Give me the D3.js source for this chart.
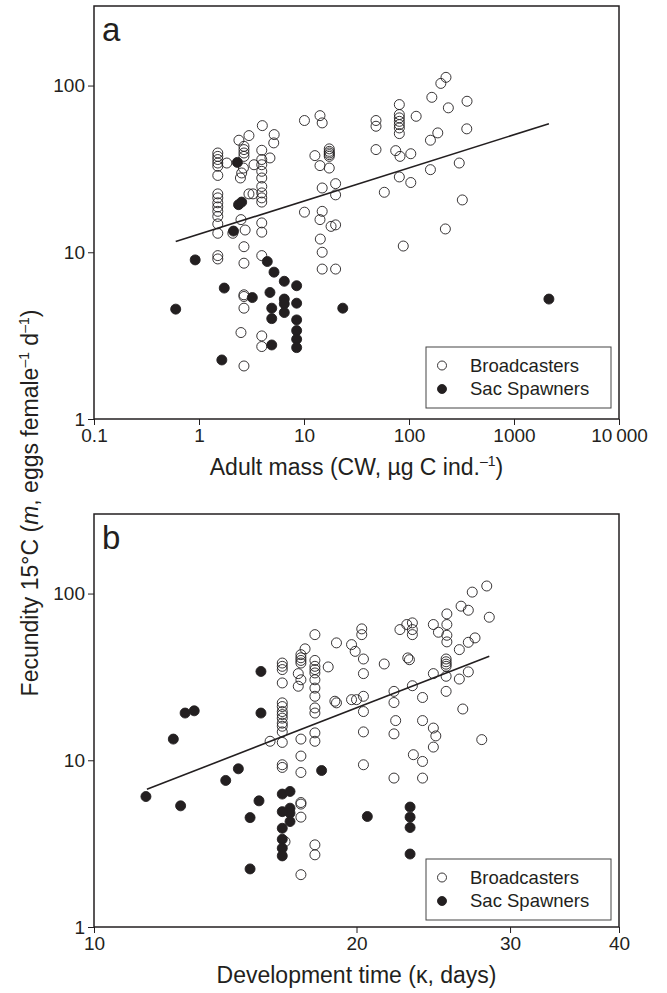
<!DOCTYPE html>
<html>
<head>
<meta charset="utf-8">
<script src="https://cdn.jsdelivr.net/npm/d3@7"></script>
<style>
    body { margin: 0; background: #fff; }
    text { font-family: "Liberation Sans", Arial, Helvetica, sans-serif; fill: #231f20; }
</style>
</head>
<body>
<svg id="chart" width="667" height="993"></svg>
<script>

// Panel a: adult mass (µg C) vs fecundity
const aBroadcasters = [
    [1.51, 39.4], [1.51, 37.6], [1.51, 36], [1.51, 34.3], [1.51, 32.8], [1.51, 28.9],
    [1.51, 22.4], [1.51, 21.2], [1.51, 19.8], [1.51, 18.7], [1.51, 17.6], [1.51, 16.4],
    [1.51, 14.8], [1.51, 13.0], [1.51, 9.55], [1.51, 9.12],
    [1.84, 34.3], [2.40, 47], [2.1, 13.0],
    [2.68, 43.2], [2.68, 41.3], [2.68, 39.4], [2.68, 37.6], [2.65, 32.0], [2.55, 29.9],
    [2.48, 27.9], [2.51, 15.7], [2.75, 13.6], [2.68, 10.8], [2.68, 8.6], [2.68, 5.56],
    [2.68, 5.43], [2.68, 4.62], [2.51, 3.30], [2.68, 2.08],
    [2.99, 50.1], [2.99, 22.4], [3.27, 22.4], [3.34, 33.5],
    [4.01, 57.5], [5.2, 50.8], [5.15, 45.3], [4.74, 36.8],
    [3.96, 40.9], [3.96, 36], [3.96, 33.5], [3.96, 30.6], [3.96, 27.9], [3.96, 24.8],
    [3.96, 22.7], [3.96, 21.2], [3.96, 20.0], [3.96, 15.0], [3.96, 13.2], [3.96, 9.55],
    [3.96, 3.15], [3.96, 2.72],
    [10.1, 61.7], [10.1, 17.4], [14.2, 66], [14.9, 59.7], [12.7, 38], [14.2, 33.1],
    [17.4, 41.7], [17.4, 40.3], [17.4, 39.4], [17.4, 38.5], [17.4, 37.6], [17.4, 32.0],
    [14.9, 24.3], [20, 25.8], [20, 22.1], [14.9, 17.6], [14.2, 15.7], [18.1, 14.3],
    [20, 14.6], [14.3, 12.0], [14.9, 10.0], [14.9, 7.93], [20, 7.93],
    [225, 112], [201, 103], [165, 85], [357, 80.5], [237, 73.5],
    [80.9, 76.9], [80.9, 67], [80.9, 64], [80.9, 61], [80.9, 58.3], [80.9, 55.7], [80.9, 51.5],
    [117, 65.4], [355, 55], [188, 52], [160, 47],
    [48.5, 61.7], [48.5, 57], [48.5, 41.3], [74.7, 40.7], [82.1, 37.6], [104, 39],
    [160, 31.3], [301, 34.3], [80.9, 28.3], [104, 26.2], [58.2, 22.9], [322, 20.6],
    [222, 13.8], [88.2, 10.9]
];
const aSacSpawners = [
    [2.32, 34.6], [2.38, 19.3], [2.55, 20.0], [2.13, 13.4], [0.92, 9.0], [4.47, 8.8],
    [5.18, 7.6], [6.49, 6.7], [8.51, 6.3], [1.74, 6.1], [0.60, 4.56], [3.22, 5.35],
    [4.74, 5.74], [6.49, 5.24], [6.49, 4.91], [6.49, 4.35], [8.51, 4.95], [4.93, 4.62],
    [4.93, 4.0], [8.51, 3.93], [8.51, 3.39], [8.51, 3.01], [8.51, 2.68], [4.93, 2.78],
    [1.65, 2.26], [23.4, 4.62], [2150, 5.24]
];
const aFitLine = [[0.6, 11.6], [2150, 59]];

// Panel b: development time (days) vs fecundity
const bBroadcasters = [
    [17.92, 56.7], [18.97, 50.6], [20.28, 61.4], [20.28, 56.7], [19.74, 49.4], [19.93, 45.0],
    [20.37, 40.5], [17.46, 46.6], [17.27, 43.0], [17.27, 41.2], [17.27, 39.7], [17.27, 38.3],
    [17.92, 39.7], [17.92, 36.6], [17.92, 35.0], [17.92, 33.4], [18.56, 36.3], [20.37, 33.1],
    [16.44, 38.3], [16.44, 36.6], [16.44, 35.0], [16.44, 29.1],
    [17.15, 33.1], [17.27, 30.4], [17.15, 27.8], [17.92, 30.4], [17.92, 27.1], [17.92, 24.2],
    [18.89, 22.6], [18.97, 22.1], [19.74, 23.1], [20.0, 23.1], [20.37, 24.2], [20.37, 19.6],
    [16.44, 22.1], [16.44, 21.0], [16.44, 19.6], [16.44, 18.8], [16.44, 17.9], [16.44, 16.7],
    [16.44, 16.0], [16.44, 14.8], [16.44, 12.8],
    [17.92, 20.6], [17.92, 19.2], [17.92, 14.6], [17.92, 13.0], [15.92, 13.0],
    [17.27, 13.4], [17.27, 10.6], [17.27, 8.45], [20.37, 14.8], [20.37, 9.40],
    [16.44, 9.40], [16.44, 9.06], [17.27, 5.58], [17.27, 5.46], [17.27, 4.56], [16.56, 3.25],
    [17.92, 3.11], [17.92, 2.71], [17.27, 2.06],
    [28.21, 111], [27.15, 102], [26.36, 84], [26.87, 79.4], [28.40, 72.1], [25.39, 75.5],
    [24.5, 65.2], [24.83, 58.6], [25.39, 65.2], [25.39, 56.2], [25.39, 51.3], [27.35, 54.2],
    [26.87, 51.0], [26.24, 46.1], [22.43, 60.8], [22.84, 65.2], [23.18, 66.7], [23.18, 60.8],
    [23.18, 56.7], [22.9, 41.1], [23.0, 40.1], [21.52, 37.8],
    [25.34, 40.5], [25.34, 39.0], [25.34, 37.7], [25.34, 36.6],
    [24.5, 33.1], [25.34, 31.9], [26.24, 30.7], [26.87, 33.9], [23.18, 28.0],
    [22.08, 25.9], [22.08, 22.2], [23.81, 23.8], [25.34, 25.9], [26.48, 20.3],
    [22.18, 17.3], [22.08, 14.4], [23.81, 17.3], [24.5, 15.6], [24.66, 14.0], [24.5, 12.0],
    [27.84, 13.3], [23.24, 10.8], [23.81, 9.84], [22.08, 7.82], [23.81, 7.82]
];
const bSacSpawners = [
    [12.72, 19.2], [13.03, 19.8], [15.54, 34.1], [15.54, 19.2], [12.33, 13.4], [14.64, 8.89],
    [14.16, 7.57], [11.47, 6.06], [12.57, 5.33], [15.46, 5.71], [15.10, 4.53], [18.24, 8.68],
    [16.44, 6.27], [16.78, 6.50], [16.78, 5.16], [16.78, 4.82], [16.44, 4.92], [16.78, 4.29],
    [16.44, 3.91], [16.44, 3.36], [16.44, 2.97], [16.44, 2.67], [15.10, 2.23], [20.58, 4.6],
    [23.04, 5.24], [23.04, 4.56], [23.04, 3.95], [23.04, 2.74]
];
const bFitLine = [[11.5, 6.7], [28.4, 42]];

// Axes
const yTicks = [1, 10, 100];
const aXTicks = [0.1, 1, 10, 100, 1000, 10000];
const aXTickLabels = ['0.1', '1', '10', '100', '1000', '10\u2009000'];
const bXTicks = [10, 20, 30, 40];
const bXTickLabels = ['10', '20', '30', '40'];
const legendLabels = ['Broadcasters', 'Sac Spawners'];

// Constants
const INK = '#231f20';
const LEFT = 94, RIGHT = 619;
const R = 5;

const svg = d3.select('#chart');

drawPanel({
    letter: 'a', top: 6, bottom: 419,
    xDomain: [0.1, 10000], xTicks: aXTicks, xLabels: aXTickLabels,
    open: aBroadcasters, filled: aSacSpawners, fit: aFitLine,
    legendTop: 347, xTitle: 'a'
});
drawPanel({
    letter: 'b', top: 514, bottom: 927,
    xDomain: [10, 40], xTicks: bXTicks, xLabels: bXTickLabels,
    open: bBroadcasters, filled: bSacSpawners, fit: bFitLine,
    legendTop: 859, xTitle: 'b'
});

// Shared y title
const yTitle = svg.append('text')
    .attr('transform', 'translate(38, 503) rotate(-90)')
    .attr('text-anchor', 'middle')
    .attr('font-size', 23);
yTitle.append('tspan').text('Fecundity 15°C (');
yTitle.append('tspan').attr('font-style', 'italic').text('m');
yTitle.append('tspan').text(', eggs female');
yTitle.append('tspan').attr('font-size', 14).attr('dy', -9).text('–1');
yTitle.append('tspan').attr('dy', 9).text(' d');
yTitle.append('tspan').attr('font-size', 14).attr('dy', -9).text('–1');
yTitle.append('tspan').attr('dy', 9).text(')');

function drawPanel(p) {
    let x = d3.scaleLog().domain(p.xDomain).range([LEFT, RIGHT]);
    let y = d3.scaleLog().domain([1, 300]).range([p.bottom, p.top]);

    let g = svg.append('g');

    // Axes
    let yAxis = g.append('g')
        .attr('transform', 'translate(' + LEFT + ',0)')
        .call(d3.axisLeft(y).tickValues(yTicks).tickFormat(d3.format('d')).tickSize(6).tickSizeOuter(0));
    let xAxis = g.append('g')
        .attr('transform', 'translate(0,' + p.bottom + ')')
        .call(d3.axisBottom(x).tickValues(p.xTicks).tickFormat((d, i) => p.xLabels[i]).tickSize(6).tickPadding(4).tickSizeOuter(0));
    [yAxis, xAxis].forEach((a) => {
        a.select('.domain').remove();
        a.selectAll('line').attr('stroke', INK).attr('stroke-width', 1);
        a.selectAll('text').attr('font-size', 19).attr('fill', INK)
            .attr('font-family', '"Liberation Sans", Arial, sans-serif');
    });

    // Frame
    g.append('rect')
        .attr('x', LEFT).attr('y', p.top)
        .attr('width', RIGHT - LEFT).attr('height', p.bottom - p.top)
        .attr('fill', 'none').attr('stroke', INK).attr('stroke-width', 1.5);

    // Fit line
    g.append('path')
        .datum(p.fit)
        .attr('d', d3.line().x((d) => x(d[0])).y((d) => y(d[1])))
        .attr('fill', 'none').attr('stroke', INK).attr('stroke-width', 1.6);

    // Points
    g.selectAll('circle.open').data(p.open).enter()
        .append('circle')
        .attr('class', 'open')
        .attr('cx', (d) => x(d[0])).attr('cy', (d) => y(d[1])).attr('r', R)
        .attr('fill', 'none').attr('stroke', INK).attr('stroke-width', 0.9);
    g.selectAll('circle.filled').data(p.filled).enter()
        .append('circle')
        .attr('class', 'filled')
        .attr('cx', (d) => x(d[0])).attr('cy', (d) => y(d[1])).attr('r', R)
        .attr('fill', INK).attr('stroke', INK).attr('stroke-width', 0.9);

    // Panel letter
    g.append('text')
        .attr('x', LEFT + 8).attr('y', p.top + 35)
        .attr('font-size', 33)
        .text(p.letter);

    // Legend
    let lg = g.append('g').attr('transform', 'translate(426,' + p.legendTop + ')');
    lg.append('rect')
        .attr('width', 185).attr('height', 61)
        .attr('fill', '#fff').attr('stroke', '#444').attr('stroke-width', 1);
    legendLabels.forEach((label, i) => {
        lg.append('circle')
            .attr('cx', 16).attr('cy', 18.5 + i * 23.5).attr('r', 4.5)
            .attr('fill', i ? INK : 'none').attr('stroke', INK).attr('stroke-width', 0.9);
        lg.append('text')
            .attr('x', 44).attr('y', 18.5 + i * 23.5).attr('dy', '0.35em')
            .attr('font-size', 18.5)
            .text(label);
    });

    // X title
    let t = g.append('text')
        .attr('x', (LEFT + RIGHT) / 2).attr('y', p.bottom + 56)
        .attr('text-anchor', 'middle')
        .attr('font-size', 23);
    if (p.xTitle === 'a') {
        t.append('tspan').text('Adult mass (CW, µg C ind.');
        t.append('tspan').attr('font-size', 14).attr('dy', -9).text('–1');
        t.append('tspan').attr('dy', 9).text(')');
    } else {
        t.text('Development time (κ, days)');
    }
}

</script>
</body>
</html>
